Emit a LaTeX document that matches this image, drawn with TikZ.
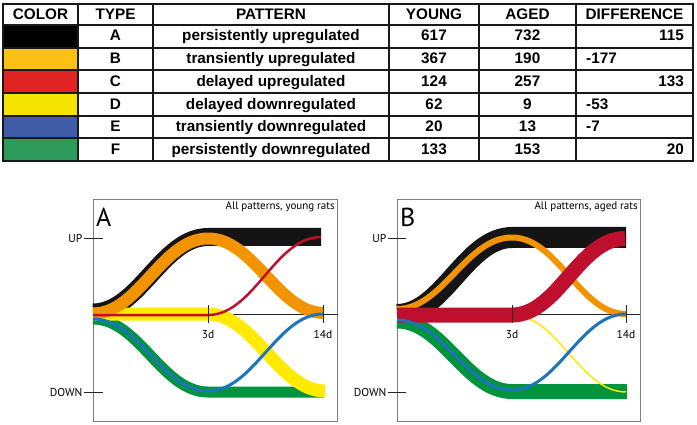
\documentclass[tikz,border=0pt]{standalone}
\usepackage{fontspec}
\setmainfont{Liberation Sans}
\newfontfamily\panelfont{PT Sans}
\usepackage{tikz}
\usetikzlibrary{positioning}
\definecolor{swblack}{RGB}{0,0,0}
\definecolor{sworange}{RGB}{253,193,22}
\definecolor{swred}{RGB}{226,35,35}
\definecolor{swyellow}{RGB}{244,228,0}
\definecolor{swblue}{RGB}{62,92,168}
\definecolor{swgreen}{RGB}{46,154,92}
\definecolor{crvblack}{RGB}{20,20,20}
\definecolor{crvorange}{RGB}{242,148,0}
\definecolor{crvred}{RGB}{190,16,46}
\definecolor{crvyellow}{RGB}{255,234,0}
\definecolor{crvblue}{RGB}{28,117,188}
\definecolor{crvgreen}{RGB}{0,148,62}
\definecolor{framegray}{RGB}{125,125,125}
\tikzset{
  cell/.style={font=\bfseries\fontsize{15.3}{17}\selectfont, inner sep=0pt, anchor=base},
  gridline/.style={line width=1.7pt, color=black!90},
  band/.style={line cap=butt, line join=round},
  frame/.style={draw=framegray, line width=0.8pt},
  axis/.style={line width=0.9pt, color=black!85},
  axlabel/.style={font=\panelfont\fontsize{11.5}{13}\selectfont, inner sep=0pt},
  plabel/.style={font=\panelfont\fontsize{26}{28}\selectfont, inner sep=0pt, anchor=base west},
  ptitle/.style={font=\panelfont\fontsize{11}{13}\selectfont, inner sep=0pt, anchor=base east}
}

\begin{document}
\begin{tikzpicture}[x=1pt, y=-1pt]
  \useasboundingbox[fill=white] (0,0) rectangle (697,425);

  % Table of patterns
  \node[cell] (hdr_color) at (40.5,20) {COLOR};
  \node[cell] (hdr_type) at (115.5,20) {TYPE};
  \node[cell] (hdr_pat) at (271,20) {PATTERN};
  \node[cell] (hdr_young) at (434,20) {YOUNG};
  \node[cell] (hdr_aged) at (527.5,20) {AGED};
  \node[cell] (hdr_diff) at (634.5,20) {DIFFERENCE};
  \foreach \sw/\typ/\pat/\yng/\agd/\dif/\dx/\da [count=\r] in {
      swblack/A/persistently upregulated/617/732/115/684/east,
      sworange/B/transiently upregulated/367/190/-177/586/west,
      swred/C/delayed upregulated/124/257/133/684/east,
      swyellow/D/delayed downregulated/62/9/-53/586/west,
      swblue/E/transiently downregulated/20/13/-7/586/west,
      swgreen/F/persistently downregulated/133/153/20/684/east} {
    \pgfmathsetmacro{\ytop}{25+(\r-1)*22.67}
    \pgfmathsetmacro{\ybot}{25+\r*22.67}
    \pgfmathsetmacro{\ybase}{\ytop+16}
    \fill[\sw] (3,\ytop) rectangle (78,\ybot);
    \node[cell] (typ_\r) at (115.5,\ybase) {\typ};
    \node[cell] (pat_\r) at (271,\ybase) {\pat};
    \node[cell] (yng_\r) at (434,\ybase) {\yng};
    \node[cell] (agd_\r) at (527.5,\ybase) {\agd};
    \node[cell, anchor=base \da] (dif_\r) at (\dx,\ybase) {\dif};
  }
  \foreach \gx in {78,153,389,479,576}
    \draw[gridline] (\gx,4) -- (\gx,161);
  \foreach \gy in {25,47.67,70.33,93,115.67,138.33}
    \draw[gridline] (3,\gy) -- (693,\gy);
  \draw[gridline] (3,4) rectangle (693,161);

  % Panel A: young rats
  \begin{scope}
    \draw[frame] (93,199) rectangle (337.5,421);
    \node[plabel] (letA) at (96,226) {A};
    \node[ptitle] (titA) at (335,210) {All patterns, young rats};
    \draw[axis] (93,314) -- (337.5,314);
    \coordinate (upA) at (84,238);
    \coordinate (dnA) at (84,392);
    \draw[axis] (upA) -- +(19,0);
    \draw[axis] (dnA) -- +(19,0);
    \node[axlabel, left=1.5pt of upA] (upA_lbl) {UP};
    \node[axlabel, left=1.5pt of dnA] (dnA_lbl) {DOWN};

    \draw[band, crvblack, line width=18pt] (93,312.5) .. controls +(46,0) and +(-46,0) .. (208,237) -- (321,237);
    \draw[band, crvgreen, line width=11pt] (93,319) .. controls +(46,0) and +(-46,0) .. (208,392) -- (324,392);
    \draw[band, crvyellow, line width=13pt] (93,314) -- (208,314) .. controls +(46,0) and +(-46,0) .. (325,391);
    \draw[band, crvorange, line width=12pt] (93,313.5) .. controls +(46,0) and +(-46,0) .. (208,238.5)
      .. controls +(46,0) and +(-46,0) .. (324,313);
    \draw[band, crvred, line width=2.5pt] (93,315) -- (208,315) .. controls +(46,0) and +(-46,0) .. (321,237);
    \draw[band, crvblue, line width=3pt] (93,319) .. controls +(46,0) and +(-46,0) .. (208,391)
      .. controls +(46,0) and +(-46,0) .. (323,314);

    \coordinate (t3A) at (208,314);
    \coordinate (t14A) at (323,314);
    \draw[axis] (t3A) ++(0,-9) -- ++(0,18);
    \draw[axis] (t14A) ++(0,-9) -- ++(0,18);
    \node[axlabel, anchor=base] (t3A_lbl) at (208,338) {3d};
    \node[axlabel, anchor=base] (t14A_lbl) at (323,338) {14d};
  \end{scope}

  % Panel B: aged rats
  \begin{scope}[shift={(304,0)}]
    \draw[frame] (93,199) rectangle (336,421);
    \node[plabel] (letB) at (96,226) {B};
    \node[ptitle] (titB) at (334,210) {All patterns, aged rats};
    \draw[axis] (93,314) -- (336,314);
    \coordinate (upB) at (84,238);
    \coordinate (dnB) at (84,392);
    \draw[axis] (upB) -- +(18,0);
    \draw[axis] (dnB) -- +(18,0);
    \node[axlabel, left=1.5pt of upB] (upB_lbl) {UP};
    \node[axlabel, left=1.5pt of dnB] (dnB_lbl) {DOWN};

    \draw[band, crvblack, line width=21pt] (93,314.5) .. controls +(46,0) and +(-46,0) .. (208,237.5) -- (322,237.5);
    \draw[band, crvgreen, line width=15pt] (93,321) .. controls +(46,0) and +(-46,0) .. (208,391.5) -- (323,391.5);
    \draw[band, crvyellow, line width=1.5pt] (93,315) -- (208,315) .. controls +(46,0) and +(-46,0) .. (322,392);
    \draw[band, crvorange, line width=6pt] (93,309) .. controls +(46,0) and +(-46,0) .. (208,237.5)
      .. controls +(46,0) and +(-46,0) .. (322,314);
    \draw[band, crvred, line width=15pt] (93,315) -- (208,315) .. controls +(46,0) and +(-46,0) .. (321,238.5);
    \draw[band, crvblue, line width=3pt] (93,320) .. controls +(46,0) and +(-46,0) .. (208,390)
      .. controls +(46,0) and +(-46,0) .. (322,314);

    \coordinate (t3B) at (208,314);
    \coordinate (t14B) at (322,314);
    \draw[axis] (t3B) ++(0,-9) -- ++(0,18);
    \draw[axis] (t14B) ++(0,-9) -- ++(0,18);
    \node[axlabel, anchor=base] (t3B_lbl) at (208,338) {3d};
    \node[axlabel, anchor=base] (t14B_lbl) at (322,338) {14d};
  \end{scope}
\end{tikzpicture}
\end{document}
